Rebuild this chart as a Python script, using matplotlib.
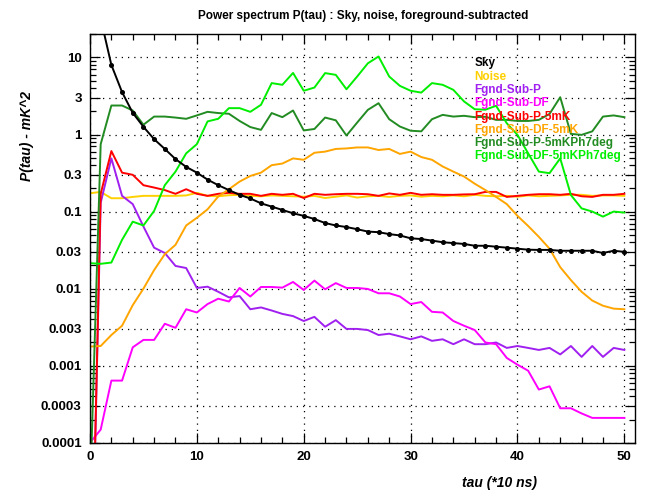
import matplotlib
matplotlib.use("Agg")
import matplotlib.pyplot as plt
from matplotlib.ticker import FixedLocator, FuncFormatter, MultipleLocator

plt.rcParams['font.family'] = ['Liberation Sans', 'DejaVu Sans']

# --- data ---
tau = list(range(0, 51))

sky_tau = list(range(1, 51))
sky = [32, 8.0, 3.55, 1.91, 1.26, 0.87, 0.65, 0.48, 0.38, 0.32,
       0.26, 0.22, 0.19, 0.165, 0.148, 0.128, 0.116, 0.105, 0.095, 0.088,
       0.08, 0.071, 0.066, 0.063, 0.059, 0.055, 0.054, 0.051, 0.049, 0.045,
       0.044, 0.042, 0.040, 0.039, 0.038, 0.036, 0.036, 0.035, 0.034, 0.033,
       0.032, 0.0318, 0.0318, 0.031, 0.031, 0.031, 0.031, 0.029, 0.031, 0.030]

noise = [0.173, 0.18, 0.149, 0.149, 0.155, 0.16, 0.16, 0.16, 0.16, 0.162,
         0.175, 0.16, 0.158, 0.163, 0.165, 0.16, 0.158, 0.162, 0.16, 0.158,
         0.156, 0.16, 0.15, 0.156, 0.162, 0.152, 0.158, 0.16, 0.155, 0.16,
         0.162, 0.156, 0.16, 0.158, 0.162, 0.158, 0.165, 0.16, 0.158, 0.16,
         0.156, 0.162, 0.158, 0.16, 0.162, 0.165, 0.165, 0.16, 0.162, 0.162,
         0.16]

fgnd_sub_p = [1e-7, 0.13, 0.49, 0.16, 0.125, 0.064, 0.034, 0.029, 0.0197, 0.0185,
              0.0102, 0.0106, 0.0091, 0.0077, 0.008, 0.0054, 0.0057, 0.0052, 0.0047, 0.0044,
              0.0038, 0.0043, 0.0032, 0.0039, 0.003, 0.003, 0.0029, 0.0025, 0.0026, 0.0024,
              0.0022, 0.0024, 0.0021, 0.0022, 0.0019, 0.0022, 0.0019, 0.0019, 0.002, 0.0017,
              0.0018, 0.0017, 0.0016, 0.0017, 0.0014, 0.0018, 0.0013, 0.0018, 0.0013, 0.0017,
              0.0016]

fgnd_sub_df = [0.0001, 0.000148, 0.00064, 0.00064, 0.00173, 0.00216, 0.00216, 0.0035, 0.0031, 0.0054,
               0.0049, 0.0063, 0.0074, 0.0068, 0.0102, 0.0079, 0.0105, 0.0105, 0.0103, 0.0122,
               0.0096, 0.0127, 0.0098, 0.0118, 0.0102, 0.0102, 0.0099, 0.0087, 0.0087, 0.0079,
               0.0063, 0.0067, 0.0050, 0.0049, 0.0038, 0.0033, 0.0029, 0.0020, 0.0019, 0.00126,
               0.00103, 0.00086, 0.00049, 0.00054, 0.00028, 0.00028, 0.00024, 0.00021, 0.00021, 0.00021,
               0.00021]

fgnd_sub_p_5mk = [1e-7, 0.17, 0.61, 0.32, 0.30, 0.22, 0.205, 0.19, 0.17, 0.195,
                  0.17, 0.16, 0.17, 0.175, 0.17, 0.17, 0.16, 0.17, 0.165, 0.17,
                  0.15, 0.17, 0.165, 0.168, 0.17, 0.17, 0.168, 0.16, 0.172, 0.165,
                  0.175, 0.165, 0.168, 0.165, 0.165, 0.167, 0.168, 0.18, 0.18, 0.155,
                  0.16, 0.165, 0.168, 0.168, 0.165, 0.17, 0.158, 0.155, 0.165, 0.165,
                  0.17]

fgnd_sub_df_5mk = [0.00177, 0.0018, 0.0025, 0.0033, 0.0061, 0.010, 0.0174, 0.028, 0.037, 0.066,
                   0.083, 0.107, 0.157, 0.195, 0.245, 0.29, 0.32, 0.40, 0.42, 0.49,
                   0.47, 0.58, 0.60, 0.65, 0.66, 0.68, 0.68, 0.63, 0.65, 0.56,
                   0.60, 0.51, 0.47, 0.385, 0.33, 0.285, 0.23, 0.19, 0.155, 0.125,
                   0.088, 0.065, 0.047, 0.033, 0.019, 0.0129, 0.0091, 0.0070, 0.0060, 0.0055,
                   0.0054]

fgnd_sub_p_ph7 = [2e-5, 0.75, 2.38, 2.38, 2.05, 1.34, 1.71, 1.71, 1.66, 1.6,
                  1.77, 1.97, 1.9, 1.86, 1.5, 1.25, 1.15, 1.9, 1.68, 2.05,
                  1.13, 1.18, 1.66, 1.53, 0.97, 1.43, 2.09, 2.55, 1.58, 1.27,
                  1.12, 1.1, 1.58, 1.8, 1.71, 1.75, 1.68, 1.7, 1.55, 1.55,
                  1.5, 1.5, 1.55, 1.85, 3.05, 1.02, 0.99, 1.1, 1.71, 1.77,
                  1.68]

fgnd_sub_df_ph7 = [0.0214, 0.021, 0.0218, 0.043, 0.074, 0.066, 0.102, 0.22, 0.33, 0.57,
                   0.75, 1.48, 1.6, 2.2, 2.2, 1.97, 2.43, 4.65, 4.42, 6.3,
                   3.7, 4.07, 6.27, 5.95, 3.87, 5.66, 8.4, 10.3, 5.66, 4.28,
                   3.7, 3.5, 4.65, 4.42, 3.8, 2.69, 2.13, 2.1, 2.36, 1.4,
                   0.99, 0.57, 0.33, 0.315, 0.49, 0.164, 0.11, 0.10, 0.086, 0.10,
                   0.097]

names = ['Sky', 'Noise', 'Fgnd-Sub-P', 'Fgnd-Sub-DF', 'Fgnd-Sub-P-5mK',
         'Fgnd-Sub-DF-5mK', 'Fgnd-Sub-P-5mKPh7deg', 'Fgnd-Sub-DF-5mKPh7deg']
colors = ['black', '#FFD000', '#A020F0', '#FF00FF', '#FF0000',
          '#FFA500', '#228B22', '#00EE00']

ytick_vals = [0.0001, 0.0003, 0.001, 0.003, 0.01, 0.03, 0.1, 0.3, 1, 3, 10]

fig = plt.figure(figsize=(6.55, 4.94), dpi=100)
ax = fig.add_axes([0.1374, 0.1038, 0.8321, 0.8268])

series = [noise, fgnd_sub_p, fgnd_sub_df, fgnd_sub_p_5mk,
          fgnd_sub_df_5mk, fgnd_sub_p_ph7, fgnd_sub_df_ph7]
for vals, c in zip(series, colors[1:]):
    ax.plot(tau, vals, color=c, lw=1.4)
ax.plot(sky_tau, sky, color='black', lw=1.4, marker='o', markersize=2.6)

ax.set_yscale('log')
ax.set_xlim(0, 51)
ax.set_ylim(0.0001, 20)

ax.yaxis.set_major_locator(FixedLocator(ytick_vals))
ax.yaxis.set_major_formatter(FuncFormatter(lambda v, p: '%g' % v))
minors = [m * 10.0 ** e for e in range(-4, 2) for m in (2, 4, 5, 6, 7, 8, 9)]
ax.yaxis.set_minor_locator(FixedLocator(minors))
ax.yaxis.set_minor_formatter(FuncFormatter(lambda v, p: ''))
ax.xaxis.set_major_locator(MultipleLocator(10))
ax.xaxis.set_minor_locator(MultipleLocator(2))

ax.tick_params(which='both', direction='in', top=True, right=True, width=0.9)
ax.tick_params(which='major', length=7, pad=6, labelsize=9.5)
ax.tick_params(which='minor', length=4)
for lab in ax.get_xticklabels() + ax.get_yticklabels():
    lab.set_fontweight('bold')

ax.grid(True, which='major', color='black', linestyle=(0, (1, 4)), linewidth=0.9)
for s in ax.spines.values():
    s.set_linewidth(1.0)

fig.text(0.5542, 0.968, 'Power spectrum P(tau) : Sky, noise, foreground-subtracted',
         ha='center', va='center', fontsize=8.5, fontweight='bold')
fig.text(0.041, 0.725, 'P(tau) - mK^2', rotation=90, ha='center', va='center',
         fontsize=10, fontweight='bold', style='italic')
fig.text(0.763, 0.022, 'tau (*10 ns)', ha='center', va='center',
         fontsize=10, fontweight='bold', style='italic')

# legend as coloured text
for i, (n, c) in enumerate(zip(names, colors)):
    ax.text(0.705, 0.929 - i * 0.0326, n, transform=ax.transAxes, color=c,
            fontsize=8.5, fontweight='bold', ha='left', va='center')

fig.savefig('out.png', dpi=100)
